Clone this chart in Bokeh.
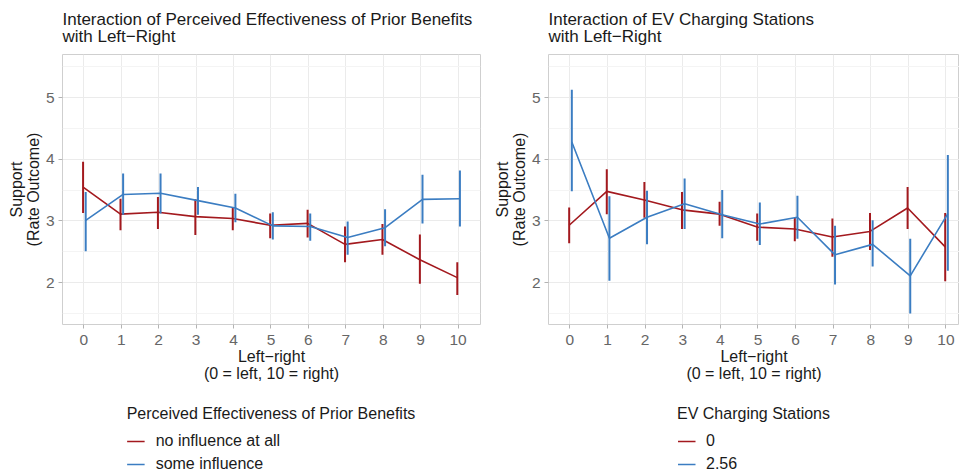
from bokeh.plotting import figure
from bokeh.models import Legend, LegendItem, Range1d, FixedTicker
from bokeh.layouts import row, column
from bokeh.embed import file_html
from bokeh.resources import INLINE

# ---------------- data ----------------
left_right = [0, 1, 2, 3, 4, 5, 6, 7, 8, 9, 10]
tick_labels = ["0", "1", "2", "3", "4", "5", "6", "7", "8", "9", "10"]

# Panel 1: Perceived Effectiveness of Prior Benefits
pe_none_est = [3.55, 3.11, 3.14, 3.07, 3.04, 2.93, 2.96, 2.62, 2.70, 2.37, 2.08]
pe_none_lo = [3.13, 2.85, 2.87, 2.77, 2.85, 2.72, 2.73, 2.33, 2.45, 1.98, 1.80]
pe_none_hi = [3.96, 3.36, 3.39, 3.35, 3.21, 3.12, 3.18, 2.91, 2.95, 2.78, 2.33]

pe_some_est = [3.01, 3.43, 3.45, 3.33, 3.21, 2.92, 2.91, 2.73, 2.89, 3.35, 3.36]
pe_some_lo = [2.51, 3.10, 3.12, 3.10, 2.98, 2.70, 2.68, 2.45, 2.59, 2.96, 2.91]
pe_some_hi = [3.47, 3.77, 3.77, 3.55, 3.44, 3.14, 3.12, 2.99, 3.19, 3.75, 3.82]

# Panel 2: EV Charging Stations
ev0_est = [2.93, 3.48, 3.34, 3.18, 3.11, 2.90, 2.87, 2.74, 2.83, 3.21, 2.58]
ev0_lo = [2.64, 3.11, 3.05, 2.87, 2.92, 2.68, 2.67, 2.42, 2.53, 2.87, 2.02]
ev0_hi = [3.22, 3.84, 3.63, 3.47, 3.31, 3.12, 3.05, 3.04, 3.13, 3.55, 3.13]

ev256_est = [4.28, 2.72, 3.06, 3.28, 3.10, 2.95, 3.06, 2.45, 2.62, 2.11, 3.12]
ev256_lo = [3.48, 2.03, 2.62, 2.87, 2.72, 2.61, 2.71, 1.97, 2.26, 1.50, 2.19]
ev256_hi = [5.13, 3.40, 3.49, 3.69, 3.50, 3.30, 3.41, 2.92, 3.01, 2.71, 4.07]

RED = "#A3191E"
BLUE = "#3B7DC2"
FONT = "Liberation Sans"
DODGE_A = -0.02
DODGE_B = 0.05


def make_panel(title, legend_title, labels, series_a, series_b, width,
               border_left, border_right, x_end):
    p = figure(width=width, height=392, output_backend="svg",
               toolbar_location=None,
               x_range=Range1d(-0.57, x_end), y_range=Range1d(1.32, 5.70),
               min_border_left=border_left, min_border_right=border_right,
               min_border_top=54, min_border_bottom=68)
    p.background_fill_color = "white"
    p.border_fill_color = "white"
    p.outline_line_color = "#cfcfcf"
    p.outline_line_width = 1

    p.title.text = title
    p.title.text_font = FONT
    p.title.text_font_size = "17px"
    p.title.text_font_style = "normal"
    p.title.text_color = "#1a1a1a"
    p.title.text_line_height = 0.9
    p.title.align = "left"
    p.title.standoff = 16

    p.xgrid.ticker = FixedTicker(ticks=left_right)
    p.xgrid.grid_line_color = "#ebebeb"
    p.ygrid.ticker = FixedTicker(ticks=[2, 3, 4, 5],
                                 minor_ticks=[1.5, 2.5, 3.5, 4.5, 5.5])
    p.ygrid.grid_line_color = "#ebebeb"
    p.ygrid.minor_grid_line_color = "#f4f4f4"

    for ax in (p.xaxis[0], p.yaxis[0]):
        ax.axis_line_color = None
        ax.major_tick_line_color = "#b3b3b3"
        ax.major_tick_out = 4
        ax.major_tick_in = 0
        ax.minor_tick_line_color = None
        ax.major_label_text_font = FONT
        ax.major_label_text_font_size = "15.5px"
        ax.major_label_text_color = "#666666"
        ax.axis_label_text_font = FONT
        ax.axis_label_text_font_size = "16px"
        ax.axis_label_text_font_style = "normal"
        ax.axis_label_text_color = "#1a1a1a"

    p.xaxis.ticker = FixedTicker(ticks=left_right)
    p.xaxis.major_label_overrides = {v: s for v, s in zip(left_right, tick_labels)}
    p.xaxis.axis_label = "Left\u2212right\n(0 = left, 10 = right)"
    p.xaxis.axis_label_text_line_height = 1.0
    p.xaxis.major_label_standoff = 6
    p.xaxis.axis_label_standoff = 0

    p.yaxis.ticker = FixedTicker(ticks=[2, 3, 4, 5])
    p.yaxis.axis_label = "Support\n(Rate Outcome)"
    p.yaxis.axis_label_text_line_height = 1.0
    p.yaxis.major_label_standoff = 4
    p.yaxis.axis_label_standoff = 1

    for (est, lo, hi), color, dx in ((series_a, RED, DODGE_A),
                                     (series_b, BLUE, DODGE_B)):
        xs = [x + dx for x in left_right]
        p.segment(x0=xs, y0=lo, x1=xs, y1=hi, line_color=color, line_width=2)
        p.line(xs, est, line_color=color, line_width=1.6)

    # separate legend figure below the panel (proxy lines lie outside its range)
    lf = figure(width=width, height=80, output_backend="svg",
                toolbar_location=None, x_axis_location=None,
                y_axis_location=None,
                x_range=Range1d(0, 1), y_range=Range1d(0, 1),
                min_border_left=border_left, min_border_right=border_right,
                min_border_top=0, min_border_bottom=0)
    lf.outline_line_color = None
    lf.xgrid.visible = False
    lf.ygrid.visible = False
    lf.background_fill_color = "white"
    lf.border_fill_color = "white"
    proxy = [-5, -4]
    ra = lf.line(proxy, proxy, line_color=RED, line_width=1.6)
    rb = lf.line(proxy, proxy, line_color=BLUE, line_width=1.6)
    legend = Legend(items=[LegendItem(label=labels[0], renderers=[ra]),
                           LegendItem(label=labels[1], renderers=[rb])],
                    orientation="vertical", location="top_center")
    legend.title = legend_title
    legend.title_text_font = FONT
    legend.title_text_font_size = "16px"
    legend.title_text_font_style = "normal"
    legend.title_text_color = "#1a1a1a"
    legend.title_standoff = 8
    legend.label_text_font = FONT
    legend.label_text_font_size = "16px"
    legend.label_text_color = "#1a1a1a"
    legend.glyph_width = 18
    legend.glyph_height = 20
    legend.label_height = 20
    legend.spacing = 3
    legend.label_standoff = 11
    legend.padding = 0
    legend.margin = 13
    legend.border_line_color = None
    legend.background_fill_alpha = 0
    lf.add_layout(legend)
    return column(p, lf)


c1 = make_panel("Interaction of Perceived Effectiveness of Prior Benefits\nwith Left\u2212Right",
                "Perceived Effectiveness of Prior Benefits",
                ["no influence at all", "some influence"],
                (pe_none_est, pe_none_lo, pe_none_hi),
                (pe_some_est, pe_some_lo, pe_some_hi),
                width=486, border_left=62, border_right=6, x_end=10.6)
c2 = make_panel("Interaction of EV Charging Stations\nwith Left\u2212Right",
                "EV Charging Stations",
                ["0", "2.56"],
                (ev0_est, ev0_lo, ev0_hi),
                (ev256_est, ev256_lo, ev256_hi),
                width=473, border_left=62, border_right=0, x_end=10.36)

layout = row(c1, c2)
open("out.html", "w").write(file_html(layout, INLINE))
